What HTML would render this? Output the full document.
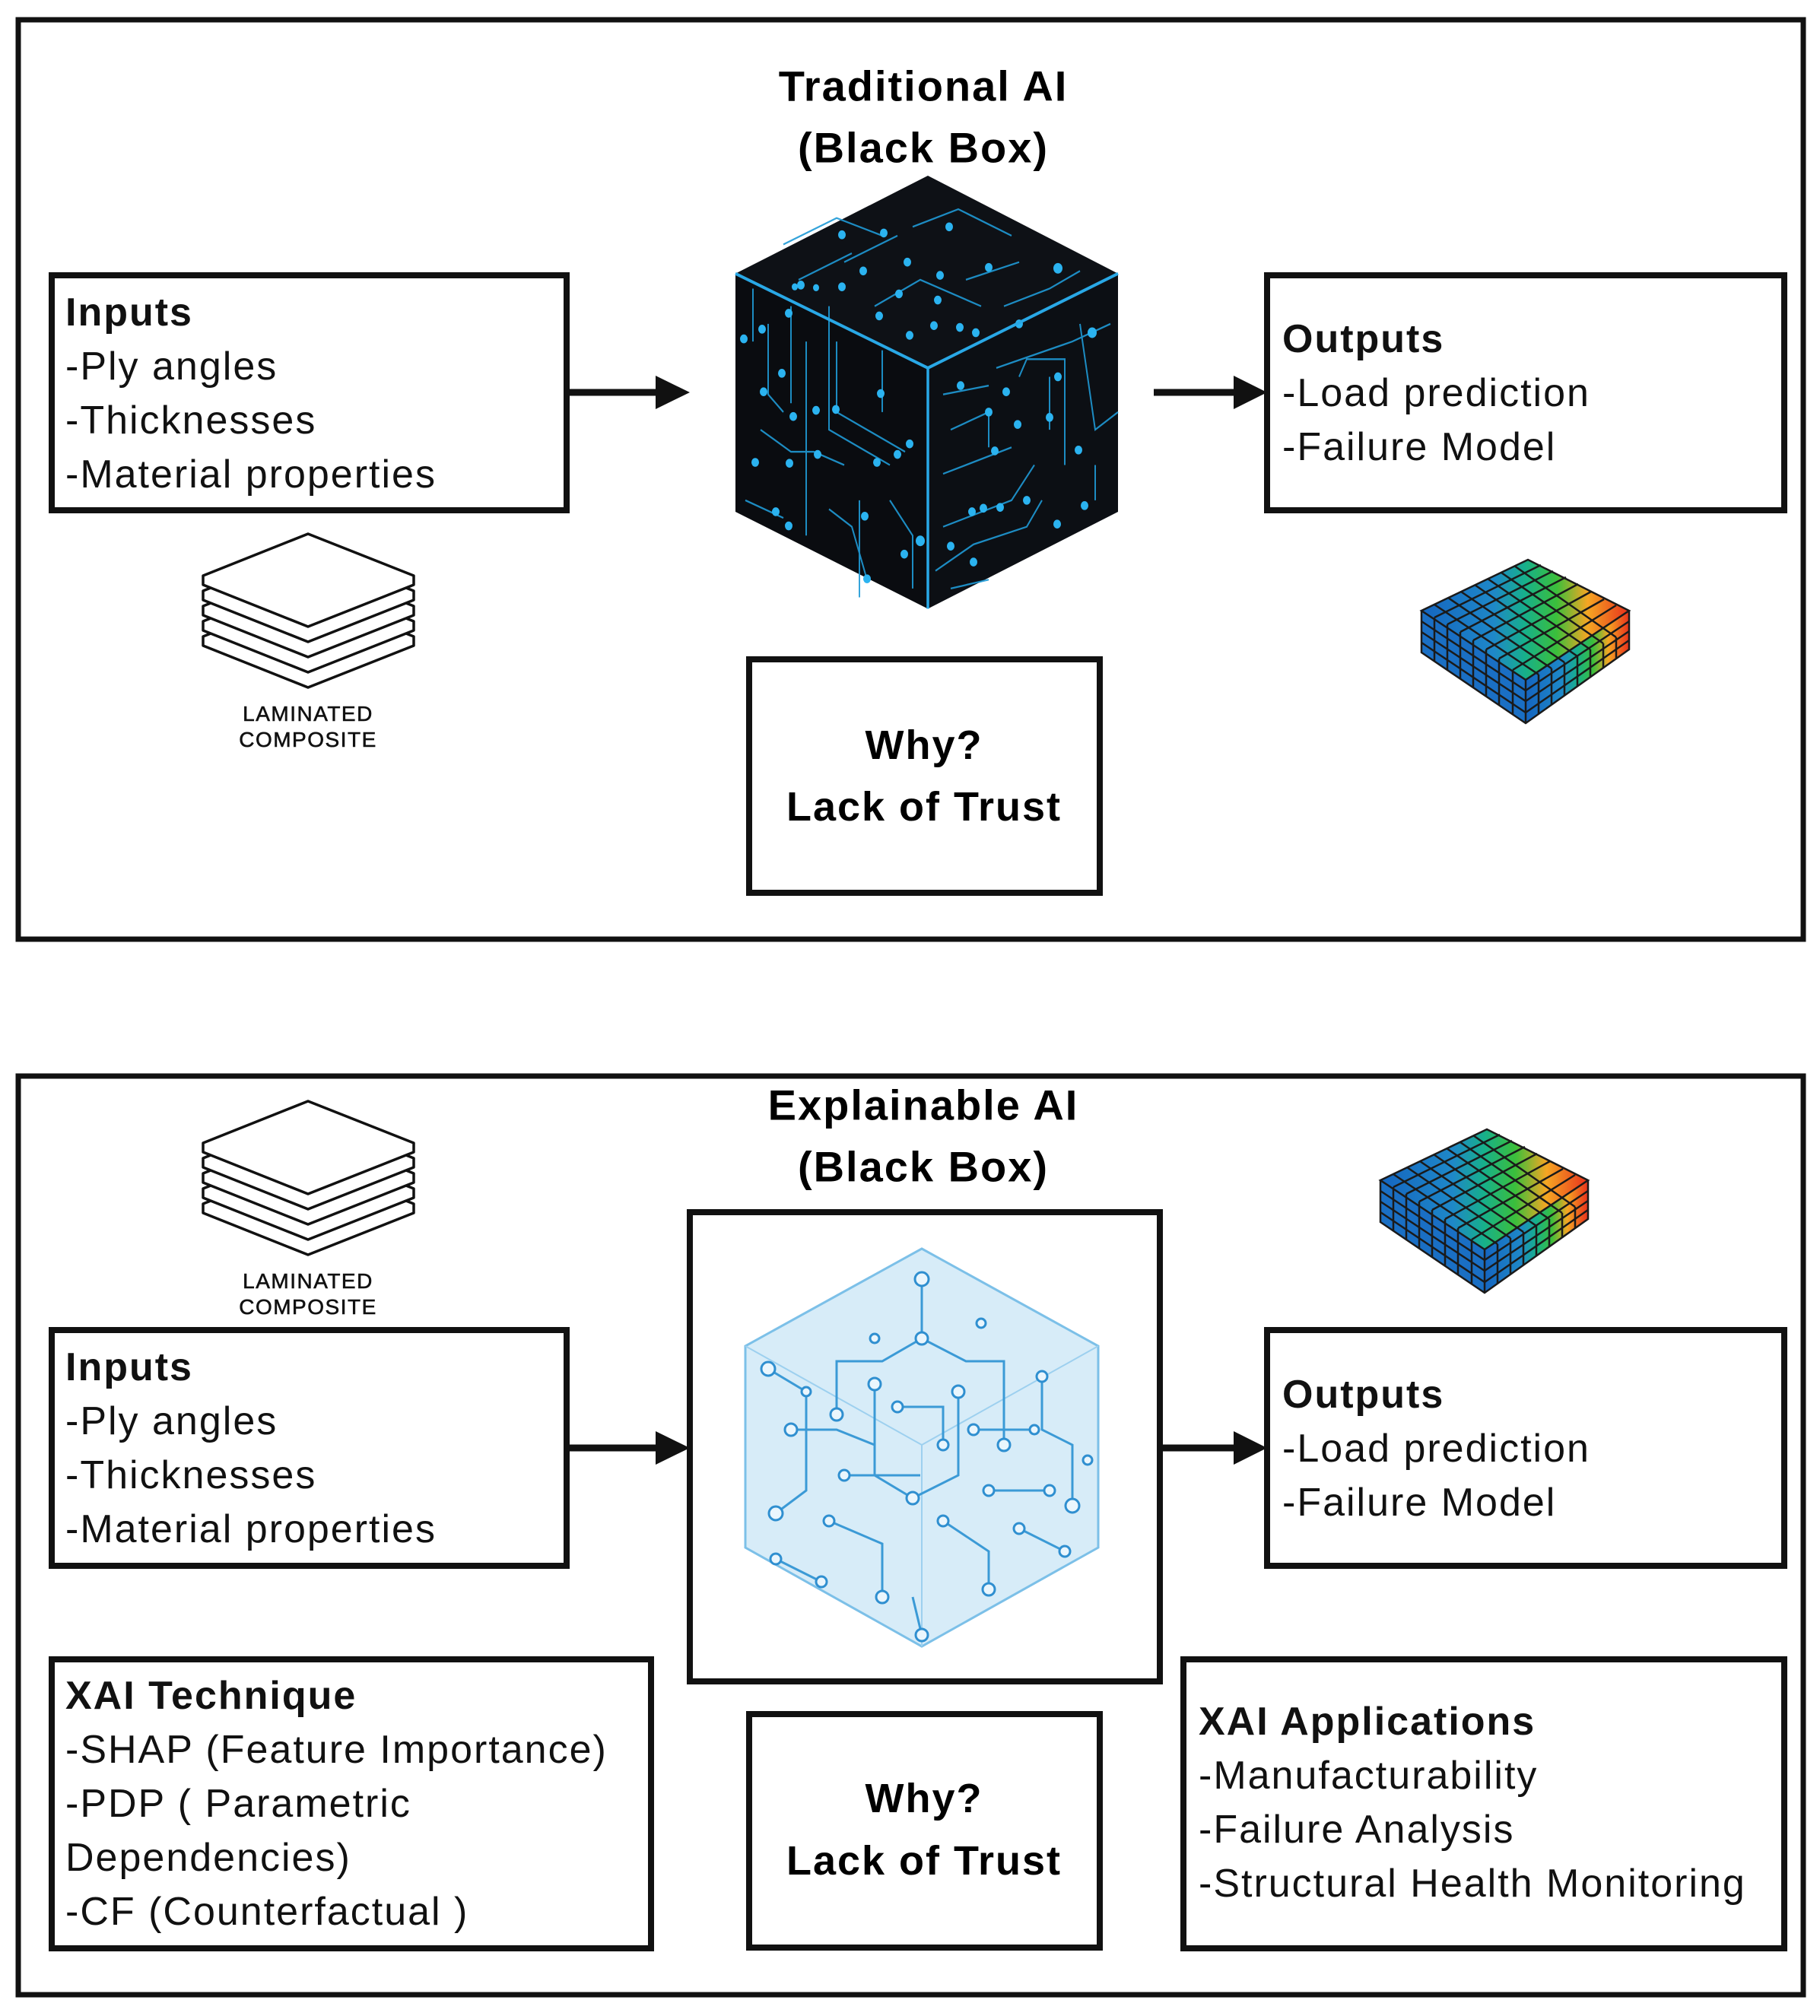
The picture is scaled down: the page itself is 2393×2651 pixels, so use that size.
<!DOCTYPE html>
<html><head><meta charset="utf-8"><style>
html,body{margin:0;padding:0;background:#fff}
svg{display:block}
text{font-family:"Liberation Sans",sans-serif;letter-spacing:2px}
</style></head><body>
<svg width="2393" height="2651" viewBox="0 0 2393 2651" xmlns="http://www.w3.org/2000/svg">
<defs>
<linearGradient id="hm" x1="0" y1="0" x2="1" y2="0">
<stop offset="0" stop-color="#1565c0"/><stop offset="0.35" stop-color="#1e88c8"/><stop offset="0.5" stop-color="#17b08a"/><stop offset="0.65" stop-color="#3bbf3b"/><stop offset="0.8" stop-color="#f5a623"/><stop offset="1" stop-color="#e8301c"/>
</linearGradient>
<g id="lam">
<g fill="#fff" stroke="#111" stroke-width="3.5" stroke-linejoin="round">
<path d="M267 837 L405 782 L544 837 L544 849 L405 904 L267 849 Z"/>
<path d="M267 817 L405 762 L544 817 L544 829 L405 884 L267 829 Z"/>
<path d="M267 797 L405 742 L544 797 L544 809 L405 864 L267 809 Z"/>
<path d="M267 777 L405 722 L544 777 L544 789 L405 844 L267 789 Z"/>
<path d="M267 757 L405 702 L544 757 L544 769 L405 824 L267 769 Z"/>
</g>
<text x="405" y="948" font-size="28" text-anchor="middle" fill="#111" style="letter-spacing:1.5px" stroke="#111" stroke-width="0.6">LAMINATED</text>
<text x="405" y="982" font-size="28" text-anchor="middle" fill="#111" style="letter-spacing:1.5px" stroke="#111" stroke-width="0.6">COMPOSITE</text>
</g>
<g id="heat">
<path d="M1955 1485 L2088 1552 L1952 1643 L1815 1552 Z" fill="url(#hm)"/>
<path d="M1815 1552 L1952 1643 L1952 1700 L1815 1607 Z" fill="#1a6fc4"/>
<path d="M1952 1643 L2088 1552 L2088 1603 L1952 1700 Z" fill="url(#hm)"/>
<g stroke="#1a1a1a" stroke-width="2.5" fill="none">
<path d="M1815 1552 L1955 1485 L2088 1552 L1952 1643 Z M1815 1552 L1815 1607 L1952 1700 L2088 1603 L2088 1552 M1952 1643 L1952 1700"/>
<path d="M1832 1544 L1969 1636 M1850 1535 L1986 1628 M1867 1527 L2003 1620 M1885 1518 L2020 1612 M1902 1510 L2037 1603 M1920 1502 L2054 1595 M1937 1493 L2071 1587"/>
<path d="M1832 1561 L1972 1492 M1849 1570 L1988 1500 M1866 1580 L2005 1508 M1883 1591 L2021 1517 M1900 1603 L2038 1527 M1917 1615 L2055 1537 M1935 1630 L2071 1545"/>
<path d="M1815 1566 L1952 1657 L2088 1566 M1815 1580 L1952 1671 L2088 1579 M1815 1594 L1952 1686 L2088 1591"/>
<path d="M1832 1561 L1832 1619 M1849 1570 L1849 1630 M1866 1580 L1866 1641 M1883 1591 L1883 1653 M1900 1603 L1900 1664 M1917 1615 L1917 1676 M1935 1630 L1935 1688 M1969 1636 L1969 1688 M1986 1628 L1986 1676 M2003 1620 L2003 1664 M2020 1612 L2020 1652 M2037 1603 L2037 1640 M2054 1595 L2054 1628 M2071 1587 L2071 1615"/>
</g>
</g>
</defs>

<!-- TOP PANEL -->
<rect x="24" y="26" width="2347" height="1209" fill="none" stroke="#111" stroke-width="7"/>
<text x="1214" y="113" font-size="56" font-weight="bold" text-anchor="middle" dominant-baseline="central">Traditional AI</text>
<text x="1214" y="194" font-size="56" font-weight="bold" text-anchor="middle" dominant-baseline="central">(Black Box)</text>

<rect x="68" y="362" width="677" height="309" fill="none" stroke="#111" stroke-width="8"/>
<g font-size="52" fill="#111">
<text x="86" y="428" font-weight="bold">Inputs</text>
<text x="86" y="499">-Ply angles</text>
<text x="86" y="570">-Thicknesses</text>
<text x="86" y="641">-Material properties</text>
</g>
<line x1="745" y1="516" x2="870" y2="516" stroke="#111" stroke-width="9"/>
<polygon points="862,494 907,516 862,538" fill="#111"/>

<!-- black cube -->
<g transform="translate(0,231) scale(1,1.16) translate(0,-232)">
<polygon points="1220,232 1470,343 1220,450 967,343" fill="#0e1116"/>
<polygon points="967,343 1220,450 1220,723 967,613" fill="#0a0c10"/>
<polygon points="1220,450 1470,343 1470,613 1220,723" fill="#0c0f14"/>
<g stroke="#1f9ad6" stroke-width="2" fill="none" opacity="0.9">
<path d="M1030 310 L1100 280 L1160 300 M1110 330 L1180 300 M1200 290 L1260 270 L1330 300 M1270 350 L1340 330 M1150 380 L1210 350 L1290 380 M1050 350 L1120 320 M1320 380 L1380 360 L1420 340"/>
<path d="M990 360 L990 420 M1010 400 L1010 480 L1030 500 M1040 380 L1040 490 M1060 420 L1060 640 M1090 380 L1090 520 L1170 560 M1100 420 L1100 500 L1190 545 M1160 430 L1160 500 M1000 520 L1040 545 L1070 545 L1110 560 M980 600 L1030 620 M1090 610 L1120 630 L1140 690 M1130 600 L1130 710 M1170 600 L1200 640 L1200 700"/>
<path d="M1240 480 L1300 470 M1250 520 L1300 500 L1300 540 M1240 570 L1330 540 M1240 630 L1330 600 L1360 560 M1340 460 L1350 440 L1400 440 L1400 560 M1380 520 L1380 460 M1420 400 L1430 460 L1440 520 L1470 500 M1230 680 L1280 650 L1350 630 L1370 600 M1250 700 L1300 690 M1440 600 L1440 560 M1310 450 L1410 420 L1460 400"/>
</g>
<g fill="#2bb3f0">
<circle cx="1107" cy="299" r="5"/><circle cx="1162" cy="297" r="5"/><circle cx="1248" cy="290" r="5"/><circle cx="1135" cy="340" r="5"/><circle cx="1193" cy="330" r="5"/><circle cx="1236" cy="345" r="5"/><circle cx="1300" cy="336" r="5"/><circle cx="1053" cy="356" r="5"/><circle cx="1045" cy="358" r="4"/><circle cx="1073" cy="359" r="4"/><circle cx="1107" cy="358" r="5"/><circle cx="1182" cy="366" r="5"/><circle cx="1233" cy="373" r="5"/><circle cx="1228" cy="402" r="5"/><circle cx="1262" cy="404" r="5"/><circle cx="1391" cy="337" r="6"/><circle cx="1156" cy="391" r="5"/><circle cx="1196" cy="413" r="5"/><circle cx="1283" cy="410" r="5"/><circle cx="1340" cy="400" r="5"/>
<circle cx="978" cy="417" r="5"/><circle cx="1002" cy="406" r="5"/><circle cx="1037" cy="388" r="5"/><circle cx="1004" cy="477" r="5"/><circle cx="1028" cy="456" r="5"/><circle cx="1043" cy="505" r="5"/><circle cx="1073" cy="498" r="5"/><circle cx="1099" cy="497" r="5"/><circle cx="1158" cy="479" r="5"/><circle cx="1196" cy="536" r="5"/><circle cx="1180" cy="548" r="5"/><circle cx="1153" cy="557" r="5"/><circle cx="1075" cy="548" r="5"/><circle cx="1038" cy="558" r="5"/><circle cx="993" cy="557" r="5"/><circle cx="1020" cy="613" r="5"/><circle cx="1037" cy="629" r="5"/><circle cx="1137" cy="618" r="5"/><circle cx="1140" cy="689" r="5"/><circle cx="1189" cy="661" r="5"/><circle cx="1210" cy="646" r="6"/>
<circle cx="1263" cy="470" r="5"/><circle cx="1300" cy="500" r="5"/><circle cx="1338" cy="514" r="5"/><circle cx="1323" cy="477" r="5"/><circle cx="1380" cy="506" r="5"/><circle cx="1418" cy="543" r="5"/><circle cx="1308" cy="544" r="5"/><circle cx="1278" cy="613" r="5"/><circle cx="1293" cy="609" r="5"/><circle cx="1315" cy="608" r="5"/><circle cx="1350" cy="600" r="5"/><circle cx="1250" cy="652" r="5"/><circle cx="1280" cy="670" r="5"/><circle cx="1436" cy="410" r="6"/><circle cx="1391" cy="460" r="5"/><circle cx="1426" cy="606" r="5"/><circle cx="1390" cy="627" r="5"/>
</g>
<g stroke="#29a8e6" stroke-width="3.5" fill="none">
<path d="M967 343 L1220 450 L1470 343 M1220 450 L1220 723"/>
</g>
</g>

<line x1="1517" y1="516" x2="1630" y2="516" stroke="#111" stroke-width="9"/>
<polygon points="1622,494 1666,516 1622,538" fill="#111"/>

<rect x="1666" y="362" width="680" height="309" fill="none" stroke="#111" stroke-width="8"/>
<g font-size="52" fill="#111">
<text x="1686" y="463" font-weight="bold">Outputs</text>
<text x="1686" y="534">-Load prediction</text>
<text x="1686" y="605">-Failure Model</text>
</g>

<use href="#lam"/>
<use href="#heat" transform="translate(54,-749)"/>

<rect x="985" y="867" width="461" height="307" fill="none" stroke="#111" stroke-width="8"/>
<text x="1215" y="980" font-size="54" font-weight="bold" text-anchor="middle" dominant-baseline="central">Why?</text>
<text x="1215" y="1061" font-size="54" font-weight="bold" text-anchor="middle" dominant-baseline="central">Lack of Trust</text>

<!-- BOTTOM PANEL -->
<rect x="24" y="1415" width="2347" height="1208" fill="none" stroke="#111" stroke-width="7"/>
<text x="1214" y="1453" font-size="56" font-weight="bold" text-anchor="middle" dominant-baseline="central">Explainable AI</text>
<text x="1214" y="1534" font-size="56" font-weight="bold" text-anchor="middle" dominant-baseline="central">(Black Box)</text>

<use href="#lam" transform="translate(0,746)"/>
<use href="#heat"/>

<rect x="68" y="1749" width="677" height="310" fill="none" stroke="#111" stroke-width="8"/>
<g font-size="52" fill="#111">
<text x="86" y="1815" font-weight="bold">Inputs</text>
<text x="86" y="1886">-Ply angles</text>
<text x="86" y="1957">-Thicknesses</text>
<text x="86" y="2028">-Material properties</text>
</g>
<line x1="745" y1="1904" x2="870" y2="1904" stroke="#111" stroke-width="9"/>
<polygon points="862,1882 907,1904 862,1926" fill="#111"/>

<rect x="907" y="1594" width="618" height="617" fill="none" stroke="#111" stroke-width="8"/>
<!-- glass cube -->
<g>
<polygon points="1212,1642 1444,1770 1444,2035 1212,2165 980,2035 980,1770" fill="#d7ecf8" stroke="#7cc0e8" stroke-width="3"/>
<path d="M980 1770 L1212 1900 L1444 1770 M1212 1900 L1212 2165" stroke="#9dd0ef" stroke-width="2" fill="none"/>
<g stroke="#3b9ad6" stroke-width="3" fill="none">
<path d="M1212 1682 L1212 1760 L1160 1790 L1100 1790 L1100 1860 M1212 1760 L1270 1790 L1320 1790 L1320 1900 M1010 1800 L1060 1830 L1060 1960 L1020 1990 M1150 1820 L1150 1940 L1200 1970 L1260 1940 L1260 1830 M1370 1810 L1370 1880 L1410 1900 L1410 1980 M1040 1880 L1100 1880 L1150 1900 M1280 1880 L1360 1880 M1090 2000 L1160 2030 L1160 2100 M1240 2000 L1300 2040 L1300 2090 M1340 2010 L1400 2040 M1020 2050 L1080 2080 M1200 2100 L1212 2150 M1180 1850 L1240 1850 L1240 1900 M1110 1940 L1210 1940 M1300 1960 L1380 1960"/>
</g>
<g stroke="#2f8fd0" stroke-width="3" fill="#eaf6fd">
<circle cx="1212" cy="1682" r="9"/><circle cx="1100" cy="1860" r="8"/><circle cx="1320" cy="1900" r="8"/><circle cx="1010" cy="1800" r="9"/><circle cx="1020" cy="1990" r="9"/><circle cx="1150" cy="1820" r="8"/><circle cx="1260" cy="1830" r="8"/><circle cx="1200" cy="1970" r="8"/><circle cx="1370" cy="1810" r="7"/><circle cx="1410" cy="1980" r="9"/><circle cx="1040" cy="1880" r="8"/><circle cx="1280" cy="1880" r="7"/><circle cx="1160" cy="2100" r="8"/><circle cx="1300" cy="2090" r="8"/><circle cx="1400" cy="2040" r="7"/><circle cx="1020" cy="2050" r="7"/><circle cx="1080" cy="2080" r="7"/><circle cx="1212" cy="2150" r="8"/><circle cx="1180" cy="1850" r="7"/><circle cx="1240" cy="1900" r="7"/><circle cx="1110" cy="1940" r="7"/><circle cx="1300" cy="1960" r="7"/><circle cx="1380" cy="1960" r="7"/><circle cx="1090" cy="2000" r="7"/><circle cx="1240" cy="2000" r="7"/><circle cx="1340" cy="2010" r="7"/><circle cx="1060" cy="1830" r="6"/><circle cx="1150" cy="1760" r="6"/><circle cx="1290" cy="1740" r="6"/><circle cx="1212" cy="1760" r="8"/><circle cx="1360" cy="1880" r="6"/><circle cx="1430" cy="1920" r="6"/>
</g>
</g>

<line x1="1525" y1="1904" x2="1630" y2="1904" stroke="#111" stroke-width="9"/>
<polygon points="1622,1882 1666,1904 1622,1926" fill="#111"/>

<rect x="1666" y="1749" width="680" height="310" fill="none" stroke="#111" stroke-width="8"/>
<g font-size="52" fill="#111">
<text x="1686" y="1851" font-weight="bold">Outputs</text>
<text x="1686" y="1922">-Load prediction</text>
<text x="1686" y="1993">-Failure Model</text>
</g>

<rect x="68" y="2182" width="788" height="380" fill="none" stroke="#111" stroke-width="8"/>
<g font-size="52" fill="#111">
<text x="86" y="2247" font-weight="bold">XAI Technique</text>
<text x="86" y="2318">-SHAP (Feature Importance)</text>
<text x="86" y="2389">-PDP ( Parametric</text>
<text x="86" y="2460">Dependencies)</text>
<text x="86" y="2531">-CF (Counterfactual )</text>
</g>

<rect x="985" y="2254" width="461" height="307" fill="none" stroke="#111" stroke-width="8"/>
<text x="1215" y="2365" font-size="54" font-weight="bold" text-anchor="middle" dominant-baseline="central">Why?</text>
<text x="1215" y="2447" font-size="54" font-weight="bold" text-anchor="middle" dominant-baseline="central">Lack of Trust</text>

<rect x="1556" y="2182" width="790" height="380" fill="none" stroke="#111" stroke-width="8"/>
<g font-size="52" fill="#111">
<text x="1576" y="2281" font-weight="bold">XAI Applications</text>
<text x="1576" y="2352">-Manufacturability</text>
<text x="1576" y="2423">-Failure Analysis</text>
<text x="1576" y="2494">-Structural Health Monitoring</text>
</g>
</svg>
</body></html>
